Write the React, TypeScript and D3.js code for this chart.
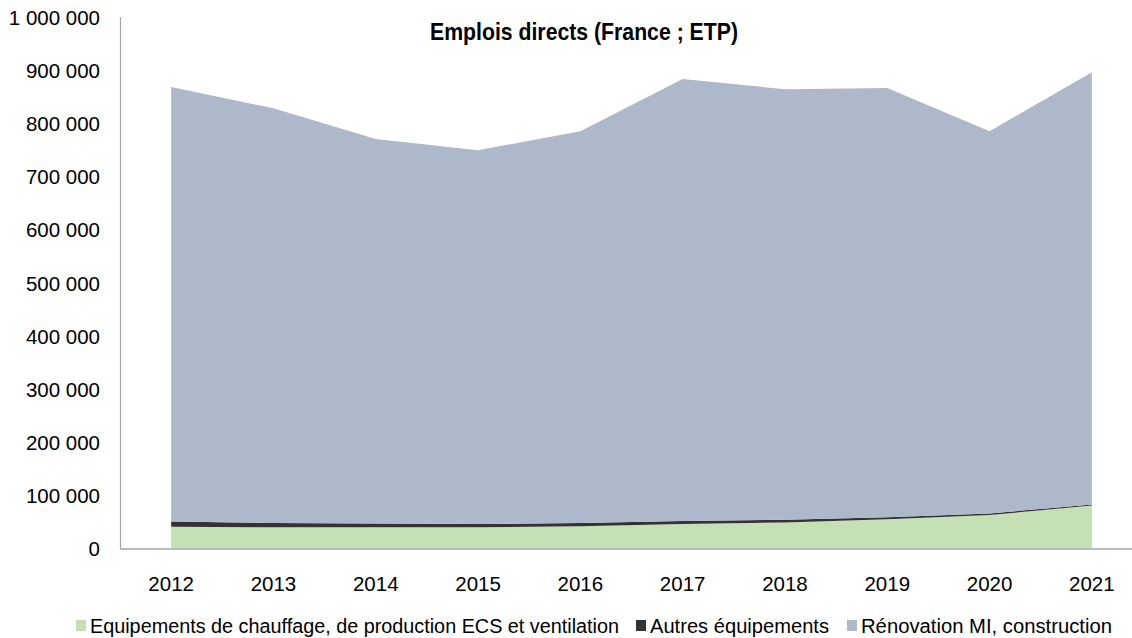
import React from "react";
import * as d3 from "d3";

const years = ["2012", "2013", "2014", "2015", "2016", "2017", "2018", "2019", "2020", "2021"];
// Equipements de chauffage, de production ECS et ventilation
const chauffage = [41000, 40000, 40000, 40000, 42000, 46000, 49000, 55000, 63000, 81000];
// Autres équipements
const autres = [10000, 8000, 7000, 6000, 6000, 6000, 5000, 4000, 3000, 2000];
// Rénovation MI, construction
const renovation = [818000, 781000, 724000, 704000, 738000, 832000, 811000, 808000, 720000, 814000];

const seriesKeys = ["chauffage", "autres", "renovation"];
const seriesLabels = [
  "Equipements de chauffage, de production ECS et ventilation",
  "Autres équipements",
  "Rénovation MI, construction",
];
const seriesColors = ["#c5e0b4", "#333333", "#adb9ca"];
const yTicks = [0, 100000, 200000, 300000, 400000, 500000, 600000, 700000, 800000, 900000, 1000000];

const W = 1132;
const H = 638;
const font = "'Liberation Sans', Arial, sans-serif";

const fr = d3.formatLocale({ decimal: ",", thousands: " ", grouping: [3], currency: ["", " €"] });
const fmt = fr.format(",");

// legend layout (x of the swatch, width the label should take)
const legendX = [76, 636, 847];
const legendW = [529, 179, 251];

export default function App() {
  const rows = years.map((y, i) => ({
    year: y,
    chauffage: chauffage[i],
    autres: autres[i],
    renovation: renovation[i],
  }));

  const x = d3.scaleBand().domain(years).range([120, 1143]);
  const y = d3.scaleLinear().domain([0, 1000000]).range([548.5, 17.5]);

  const stacked = d3.stack<any>().keys(seriesKeys)(rows);
  const area = d3
    .area<any>()
    .x((d) => (x(d.data.year) as number) + x.bandwidth() / 2)
    .y0((d) => y(d[0]))
    .y1((d) => y(d[1]));

  return (
    <div style={{ position: "fixed", left: 0, top: 0 }}>
      <svg width={W} height={H} style={{ display: "block", background: "#fff" }}>
        <text
          x={584}
          y={40}
          textAnchor="middle"
          fontFamily={font}
          fontWeight="bold"
          fontSize={23}
          fill="#000"
          textLength={308}
          lengthAdjust="spacingAndGlyphs"
        >
          Emplois directs (France ; ETP)
        </text>

        {stacked.map((s, i) => (
          <path key={seriesKeys[i]} d={area(s) || ""} fill={seriesColors[i]} />
        ))}

        <line x1={120.5} x2={120.5} y1={17} y2={549} stroke="#a6a6a6" strokeWidth={1.2} />
        <line x1={120} x2={W} y1={549} y2={549} stroke="#a6a6a6" strokeWidth={1.5} />

        {yTicks.map((t) => (
          <text key={t} x={100} y={y(t) + 7.5} textAnchor="end" fontFamily={font} fontSize={20.5} fill="#000">
            {fmt(t)}
          </text>
        ))}

        {years.map((yr) => (
          <text
            key={yr}
            x={(x(yr) as number) + x.bandwidth() / 2}
            y={591}
            textAnchor="middle"
            fontFamily={font}
            fontSize={20.5}
            fill="#000"
          >
            {yr}
          </text>
        ))}

        {seriesLabels.map((lab, i) => (
          <g key={lab} transform={`translate(${legendX[i]},626)`}>
            <rect x={0} y={-6} width={10} height={11} fill={seriesColors[i]} />
            <text
              x={14}
              y={7}
              fontFamily={font}
              fontSize={20}
              fill="#000"
              textLength={legendW[i]}
              lengthAdjust="spacingAndGlyphs"
            >
              {lab}
            </text>
          </g>
        ))}
      </svg>
    </div>
  );
}
